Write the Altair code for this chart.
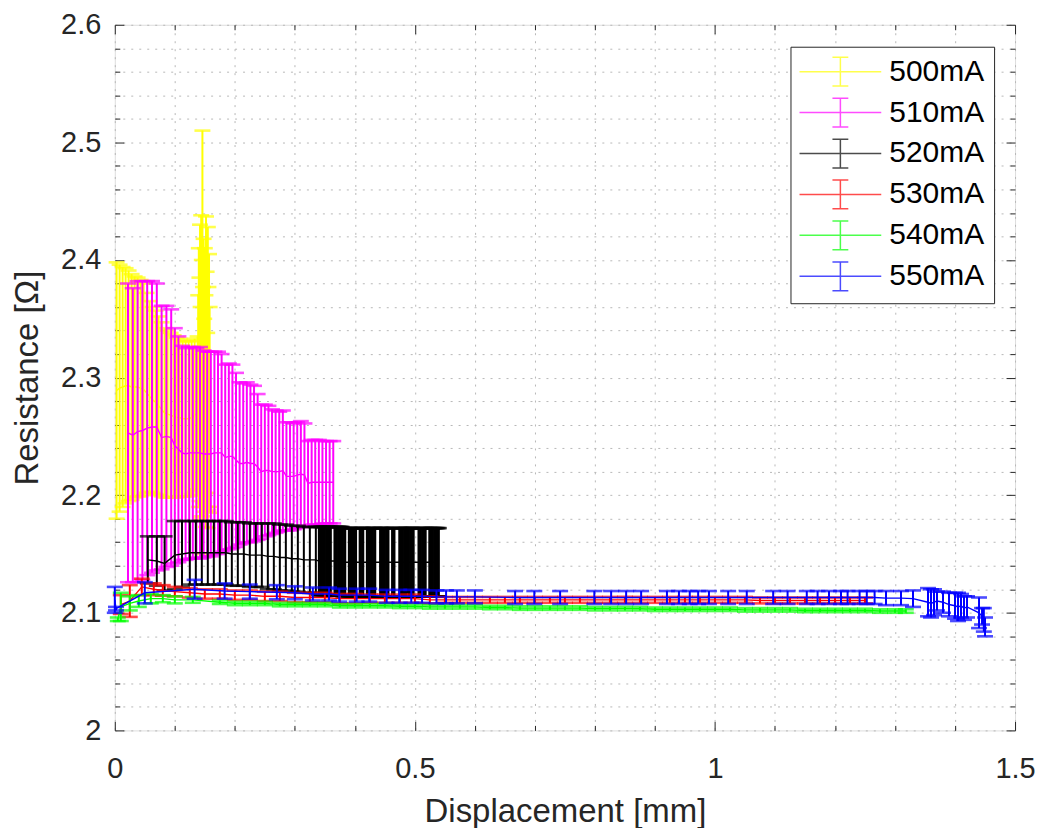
import altair as alt
import pandas as pd

series_names = ["500mA", "510mA", "520mA", "530mA", "540mA", "550mA"]
series_colors = ["#ffff00", "#ff00ff", "#000000", "#ff0000", "#00ff00", "#0000ff"]

# ---- 500 mA (yellow)
x500 = [0.003, 0.008, 0.013, 0.018, 0.023, 0.028, 0.033, 0.038, 0.043, 0.048,
        0.053, 0.058, 0.063, 0.068, 0.073, 0.078, 0.083, 0.088, 0.093, 0.098,
        0.103, 0.108, 0.113, 0.118, 0.123, 0.128, 0.133,
        0.138, 0.139, 0.14, 0.141, 0.142, 0.143, 0.144, 0.145, 0.146, 0.147,
        0.148, 0.149, 0.15, 0.151, 0.152, 0.153, 0.154, 0.155, 0.156, 0.157, 0.158]
y500 = [2.289, 2.291, 2.292, 2.293, 2.293, 2.292, 2.292, 2.292, 2.291, 2.290,
        2.287, 2.284, 2.281, 2.279, 2.276, 2.273, 2.270, 2.269, 2.268, 2.267,
        2.266, 2.266, 2.265, 2.265, 2.265, 2.266, 2.268,
        2.270, 2.285, 2.300, 2.290, 2.305, 2.280, 2.310, 2.295, 2.330, 2.285,
        2.300, 2.275, 2.298, 2.280, 2.305, 2.290, 2.270, 2.300, 2.282, 2.295, 2.275]
e500 = [0.109, 0.105, 0.102, 0.100, 0.098, 0.096, 0.094, 0.093, 0.092, 0.090,
        0.085, 0.081, 0.079, 0.078, 0.076, 0.074, 0.072, 0.071, 0.070, 0.069,
        0.068, 0.067, 0.066, 0.066, 0.066, 0.065, 0.065,
        0.065, 0.085, 0.110, 0.095, 0.125, 0.080, 0.128, 0.105, 0.180, 0.092,
        0.118, 0.075, 0.112, 0.090, 0.132, 0.100, 0.068, 0.128, 0.095, 0.110, 0.085]

# ---- 510 mA (magenta)
x510 = [0.022, 0.03, 0.038, 0.046, 0.054, 0.062, 0.07, 0.078, 0.086, 0.094,
        0.1, 0.106, 0.112, 0.118, 0.124, 0.13, 0.136, 0.142, 0.148, 0.154,
        0.16, 0.166, 0.172, 0.178, 0.184, 0.19, 0.196, 0.202, 0.208, 0.214,
        0.22, 0.226, 0.232, 0.238, 0.244, 0.25, 0.256, 0.262, 0.268, 0.274,
        0.28, 0.286, 0.292, 0.298, 0.304, 0.31, 0.316, 0.322, 0.328, 0.334,
        0.34, 0.346, 0.352, 0.358, 0.364]
y510 = [2.253, 2.251, 2.254, 2.255, 2.257, 2.258, 2.258, 2.249, 2.250, 2.249,
        2.242, 2.239, 2.236, 2.235, 2.236, 2.236, 2.236, 2.236, 2.235, 2.235,
        2.235, 2.236, 2.236, 2.236, 2.232, 2.233, 2.233, 2.230, 2.227, 2.227,
        2.228, 2.227, 2.227, 2.224, 2.220, 2.221, 2.221, 2.220, 2.220, 2.220,
        2.221, 2.216, 2.216, 2.216, 2.217, 2.218, 2.217, 2.210, 2.211, 2.211,
        2.211, 2.211, 2.211, 2.211, 2.211]
e510 = [0.127, 0.125, 0.128, 0.127, 0.125, 0.124, 0.122, 0.112, 0.111, 0.109,
        0.100, 0.096, 0.091, 0.090, 0.090, 0.090, 0.089, 0.090, 0.088, 0.087,
        0.087, 0.086, 0.086, 0.084, 0.079, 0.079, 0.078, 0.074, 0.069, 0.068,
        0.068, 0.067, 0.066, 0.062, 0.057, 0.056, 0.055, 0.053, 0.052, 0.051,
        0.051, 0.046, 0.046, 0.045, 0.045, 0.045, 0.044, 0.036, 0.036, 0.036,
        0.036, 0.035, 0.035, 0.035, 0.035]

# ---- 520 mA (black)
x520 = [0.055, 0.07, 0.083, 0.1, 0.112,
        0.125, 0.135, 0.145, 0.155, 0.165, 0.175, 0.185, 0.195, 0.205, 0.215,
        0.225, 0.235, 0.245,
        0.255, 0.265, 0.275, 0.285, 0.295, 0.305, 0.315, 0.325, 0.335,
        0.34, 0.342, 0.344, 0.346, 0.348, 0.35, 0.352, 0.354, 0.356, 0.358,
        0.36, 0.366, 0.368, 0.37, 0.372, 0.374, 0.376, 0.378,
        0.38, 0.382, 0.384, 0.39, 0.392, 0.394, 0.396, 0.398,
        0.4, 0.402, 0.408, 0.41, 0.412, 0.414,
        0.42, 0.422, 0.424, 0.426, 0.428, 0.43, 0.432, 0.434,
        0.442, 0.444, 0.446, 0.448, 0.45, 0.452, 0.454, 0.456,
        0.462, 0.464, 0.466, 0.474, 0.476, 0.478,
        0.48, 0.482, 0.484, 0.486, 0.488, 0.49, 0.492, 0.494, 0.496, 0.498,
        0.506, 0.508, 0.51, 0.512, 0.514, 0.516, 0.518,
        0.524, 0.526, 0.528, 0.53, 0.532, 0.534, 0.536, 0.538,
        0.54]
y520 = [2.145, 2.144, 2.142, 2.149, 2.150,
        2.151, 2.151, 2.151, 2.151, 2.151, 2.151, 2.151, 2.150, 2.150, 2.150,
        2.149, 2.149, 2.149,
        2.148, 2.148, 2.147, 2.147, 2.146, 2.146, 2.145, 2.145, 2.145,
        2.144, 2.144, 2.144, 2.144, 2.144, 2.144, 2.144, 2.144, 2.144, 2.144,
        2.144, 2.144, 2.144, 2.144, 2.144, 2.144, 2.144, 2.144, 2.143, 2.143,
        2.143, 2.143, 2.143, 2.143, 2.143, 2.143, 2.143, 2.143, 2.143, 2.143,
        2.143, 2.143, 2.143, 2.143, 2.143, 2.143, 2.143, 2.143, 2.143, 2.143,
        2.143, 2.143, 2.143, 2.143, 2.143, 2.143, 2.143, 2.143, 2.143, 2.143,
        2.143, 2.143, 2.143, 2.143, 2.143, 2.143, 2.143, 2.143, 2.143, 2.143,
        2.143, 2.143, 2.143, 2.143, 2.143, 2.143, 2.143, 2.143, 2.143, 2.143,
        2.143, 2.143, 2.143, 2.143, 2.143, 2.143, 2.143, 2.143, 2.143, 2.143]
e520 = [0.020, 0.021, 0.023, 0.029, 0.028,
        0.027, 0.027, 0.027, 0.027, 0.027, 0.027, 0.027, 0.027, 0.027, 0.027,
        0.027, 0.027, 0.027,
        0.028, 0.028, 0.028, 0.028, 0.028, 0.028, 0.028, 0.028, 0.028,
        0.029, 0.029, 0.029, 0.029, 0.029, 0.029, 0.029, 0.029, 0.029, 0.029,
        0.029, 0.029, 0.029, 0.029, 0.029, 0.029, 0.029, 0.029, 0.029, 0.029,
        0.029, 0.029, 0.029, 0.029, 0.029, 0.029, 0.029, 0.029, 0.029, 0.029,
        0.029, 0.029, 0.029, 0.029, 0.029, 0.029, 0.029, 0.029, 0.029, 0.029,
        0.029, 0.029, 0.029, 0.029, 0.029, 0.029, 0.029, 0.029, 0.029, 0.029,
        0.029, 0.029, 0.029, 0.029, 0.029, 0.029, 0.029, 0.029, 0.029, 0.029,
        0.029, 0.029, 0.029, 0.029, 0.029, 0.029, 0.029, 0.029, 0.029, 0.029,
        0.029, 0.029, 0.029, 0.029, 0.029, 0.029, 0.029, 0.029, 0.029, 0.029]

# ---- 530 mA (red)
x530 = [0.01, 0.025, 0.045, 0.065, 0.08, 0.1, 0.125, 0.15, 0.175, 0.2,
        0.225, 0.25, 0.275, 0.3, 0.325, 0.35, 0.375, 0.4, 0.425, 0.45,
        0.475, 0.5, 0.525, 0.55, 0.575, 0.6, 0.625, 0.65, 0.675, 0.7,
        0.725, 0.75, 0.775, 0.8, 0.825, 0.85, 0.875, 0.9, 0.925, 0.95,
        0.975, 1.0, 1.025, 1.05, 1.075, 1.1, 1.125, 1.15, 1.175, 1.2,
        1.225, 1.25]
y530 = [2.107, 2.110, 2.122, 2.120, 2.119, 2.118, 2.117, 2.116, 2.116, 2.115,
        2.115, 2.114, 2.114, 2.113, 2.113, 2.113, 2.112, 2.112, 2.112, 2.112,
        2.112, 2.112, 2.111, 2.111, 2.111, 2.111, 2.111, 2.111, 2.111, 2.111,
        2.111, 2.111, 2.111, 2.111, 2.111, 2.111, 2.111, 2.111, 2.111, 2.111,
        2.111, 2.111, 2.111, 2.111, 2.1105, 2.1105, 2.1105, 2.1105, 2.1105, 2.1105,
        2.1105, 2.1105]
e530 = [0.008, 0.0135, 0.007, 0.005, 0.0045, 0.004, 0.004, 0.004, 0.004, 0.004,
        0.004, 0.004, 0.004, 0.004, 0.004, 0.004, 0.004, 0.004, 0.0035, 0.0035,
        0.0035, 0.0035, 0.003, 0.0025, 0.0025, 0.0025, 0.0025, 0.0025, 0.0025, 0.0025,
        0.0025, 0.0025, 0.0025, 0.0025, 0.0025, 0.0025, 0.0025, 0.0025, 0.0025, 0.0025,
        0.0025, 0.0025, 0.0025, 0.0025, 0.0025, 0.0025, 0.0025, 0.0025, 0.0025, 0.0025,
        0.0025, 0.0025]

# ---- 540 mA (green)
x540 = [0.005, 0.01, 0.025, 0.04, 0.06, 0.08, 0.1, 0.13, 0.175, 0.2,
        0.225, 0.25, 0.275, 0.3, 0.325, 0.35, 0.375, 0.4, 0.425, 0.45,
        0.475, 0.5, 0.525, 0.55, 0.575, 0.6, 0.625, 0.65, 0.675, 0.7,
        0.725, 0.75, 0.775, 0.8, 0.825, 0.85, 0.875, 0.9, 0.925, 0.95,
        0.975, 1.0, 1.025, 1.05, 1.075, 1.1, 1.125, 1.15, 1.175, 1.2,
        1.225, 1.25, 1.275, 1.3, 1.318]
y540 = [2.0945, 2.105, 2.108, 2.110, 2.112, 2.112, 2.111, 2.111, 2.109, 2.108,
        2.108, 2.108, 2.107, 2.107, 2.107, 2.107, 2.106, 2.106, 2.106, 2.106,
        2.1055, 2.1055, 2.105, 2.105, 2.105, 2.105, 2.1045, 2.1045, 2.104, 2.104,
        2.104, 2.104, 2.104, 2.1035, 2.1035, 2.1035, 2.1035, 2.103, 2.103, 2.103,
        2.103, 2.103, 2.103, 2.1025, 2.1025, 2.1025, 2.1025, 2.102, 2.102, 2.102,
        2.102, 2.102, 2.1015, 2.1015, 2.1015]
e540 = [0.0015, 0.012, 0.006, 0.005, 0.004, 0.003, 0.003, 0.0025, 0.0015, 0.0015,
        0.0015, 0.0015, 0.0015, 0.0015, 0.0015, 0.0015, 0.0015, 0.0015, 0.0015, 0.0015,
        0.0015, 0.0015, 0.0015, 0.0015, 0.0015, 0.0015, 0.0015, 0.0015, 0.0015, 0.0015,
        0.0015, 0.0015, 0.0015, 0.0015, 0.0015, 0.0015, 0.0015, 0.0015, 0.0015, 0.0015,
        0.0015, 0.0015, 0.0015, 0.0015, 0.0015, 0.0015, 0.0015, 0.0015, 0.0015, 0.0015,
        0.0015, 0.0015, 0.0015, 0.0015, 0.0015]

# ---- 550 mA (blue)
x550 = [0.0, 0.002, 0.05, 0.133, 0.183, 0.225, 0.27, 0.3, 0.33, 0.357,
        0.374, 0.403, 0.424, 0.453, 0.474, 0.494, 0.512, 0.536, 0.552, 0.57,
        0.6, 0.667, 0.699, 0.742, 0.799, 0.827, 0.852, 0.877, 0.92, 0.94,
        0.958, 0.972, 0.99, 1.022, 1.053, 1.097, 1.121, 1.153, 1.171, 1.19,
        1.21, 1.221, 1.241, 1.253, 1.266, 1.285, 1.31, 1.33, 1.355, 1.36,
        1.365, 1.37, 1.38, 1.39, 1.4, 1.405, 1.41, 1.415, 1.42, 1.44,
        1.445, 1.448, 1.45]
y550 = [2.111, 2.1035, 2.117, 2.120, 2.1185, 2.118, 2.1175, 2.117, 2.116, 2.116,
        2.115, 2.115, 2.115, 2.114, 2.114, 2.114, 2.114, 2.1135, 2.1135, 2.1135,
        2.1135, 2.113, 2.113, 2.113, 2.113, 2.113, 2.113, 2.113, 2.113, 2.113,
        2.113, 2.113, 2.113, 2.113, 2.113, 2.113, 2.113, 2.113, 2.113, 2.113,
        2.113, 2.113, 2.113, 2.113, 2.113, 2.1125, 2.1125, 2.112, 2.109, 2.108,
        2.109, 2.110, 2.109, 2.107, 2.106, 2.105, 2.106, 2.104, 2.105, 2.100,
        2.097, 2.094, 2.088]
e550 = [0.011, 0.0015, 0.009, 0.008, 0.0065, 0.006, 0.006, 0.0055, 0.0055, 0.0055,
        0.0055, 0.0055, 0.0055, 0.0055, 0.0055, 0.0055, 0.0055, 0.0055, 0.0055, 0.0055,
        0.0055, 0.0055, 0.0055, 0.0055, 0.0055, 0.0055, 0.0055, 0.0055, 0.0055, 0.0055,
        0.0055, 0.0055, 0.0055, 0.0055, 0.0055, 0.0055, 0.0055, 0.0055, 0.0055, 0.0055,
        0.0055, 0.0055, 0.0055, 0.0055, 0.0055, 0.006, 0.006, 0.007, 0.012, 0.012,
        0.011, 0.008, 0.009, 0.010, 0.011, 0.012, 0.010, 0.010, 0.009, 0.013,
        0.007, 0.010, 0.008]

series_data = [(x500, y500, e500), (x510, y510, e510), (x520, y520, e520),
               (x530, y530, e530), (x540, y540, e540), (x550, y550, e550)]

x_ticks = [round(0.1 * i, 1) for i in range(16)]
y_ticks = [round(2 + 0.02 * i, 2) for i in range(31)]
x_major = "abs(datum.value*2 - round(datum.value*2)) < 0.0001"
y_major = "abs(datum.value*10 - round(datum.value*10)) < 0.0001"

FONT = "Liberation Sans"
W, H = 902, 707

xscale = alt.Scale(domain=[0, 1.5], nice=False, zero=False)
yscale = alt.Scale(domain=[2, 2.6], nice=False, zero=False)

grid_kw = dict(grid=True, gridColor="#b8b8b8", gridDash=[2, 6], gridWidth=1,
               ticks=False, tickSize=0, domain=False,
               labelFont=FONT, labelFontSize=29, labelColor="#262626",
               titleFont=FONT, titleFontSize=33, titleColor="#262626",
               titleFontWeight="normal")

x_axis = alt.Axis(values=x_ticks, labelExpr=f"{x_major} ? format(datum.value, '~g') : ''",
                  labelFlush=False, labelPadding=24, titlePadding=12,
                  title="Displacement [mm]", **grid_kw)
y_axis = alt.Axis(values=y_ticks, labelExpr=f"{y_major} ? format(datum.value, '~g') : ''",
                  labelPadding=14, titlePadding=16,
                  title="Resistance [Ω]", **grid_kw)

legend_path = ("M-2.73,0L2.73,0M0,-0.96L0,0.96M-0.53,-0.96L0.53,-0.96"
               "M-0.53,0.96L0.53,0.96")
color = alt.Color(
    "series:N",
    scale=alt.Scale(domain=series_names, range=series_colors),
    legend=alt.Legend(title=None, orient="none", legendX=677, legendY=22,
                      symbolType=legend_path, symbolSize=900, symbolOffset=25,
                      symbolStrokeWidth=1.5, symbolFillColor="transparent",
                      labelFont=FONT, labelFontSize=30, labelColor="#000000",
                      labelOffset=33, rowPadding=5, padding=9,
                      strokeColor="#262626", fillColor="white"),
)

layers = []
for name, (xs, ys, es) in zip(series_names, series_data):
    df = pd.DataFrame({"series": name, "x": xs, "y": ys, "err": es,
                       "idx": list(range(len(xs)))})
    base = alt.Chart(df).transform_calculate(
        lo="datum.y - datum.err", hi="datum.y + datum.err")
    X = alt.X("x:Q", scale=xscale, axis=x_axis)
    bars = base.mark_rule(strokeWidth=2).encode(
        x=X, y=alt.Y("lo:Q", scale=yscale, axis=y_axis), y2="hi:Q", color=color)
    cap_hi = base.mark_tick(orient="horizontal", size=16, thickness=2.6).encode(
        x=X, y=alt.Y("hi:Q", scale=yscale, axis=y_axis), color=color)
    cap_lo = base.mark_tick(orient="horizontal", size=16, thickness=2.6).encode(
        x=X, y=alt.Y("lo:Q", scale=yscale, axis=y_axis), color=color)
    line = base.mark_line(strokeWidth=1.4).encode(
        x=X, y=alt.Y("y:Q", scale=yscale, axis=y_axis), color=color,
        order="idx:Q")
    layers += [bars, cap_hi, cap_lo, line]

data_layer = alt.layer(*layers)

# inward MATLAB-style ticks on all four sides
frame_df = pd.DataFrame({"x": [0, 1.5], "y": [2, 2.6]})


def tick_axis(orient, offset, values, test):
    return alt.Axis(orient=orient, offset=offset, values=values, labels=False,
                    grid=False, domain=False, ticks=True, title=None,
                    tickColor="#262626", tickWidth=1,
                    tickSize={"condition": {"test": test, "value": 9}, "value": 5})


def tick_layer(xo, yo):
    return alt.Chart(frame_df).mark_point(opacity=0).encode(
        x=alt.X("x:Q", scale=xscale, axis=tick_axis(xo, -H, x_ticks, x_major)),
        y=alt.Y("y:Q", scale=yscale, axis=tick_axis(yo, -W, y_ticks, y_major)),
    )


chart = alt.layer(
    data_layer, tick_layer("top", "right"), tick_layer("bottom", "left")
).resolve_scale(x="independent", y="independent").properties(
    width=W, height=H,
    padding={"left": 107, "top": 16, "right": 20, "bottom": 97},
    autosize=alt.AutoSizeParams(type="none"),
).configure_view(stroke="#262626", strokeWidth=1).configure(background="white")

chart.save("out.html", embed_options={"renderer": "svg", "actions": False})
